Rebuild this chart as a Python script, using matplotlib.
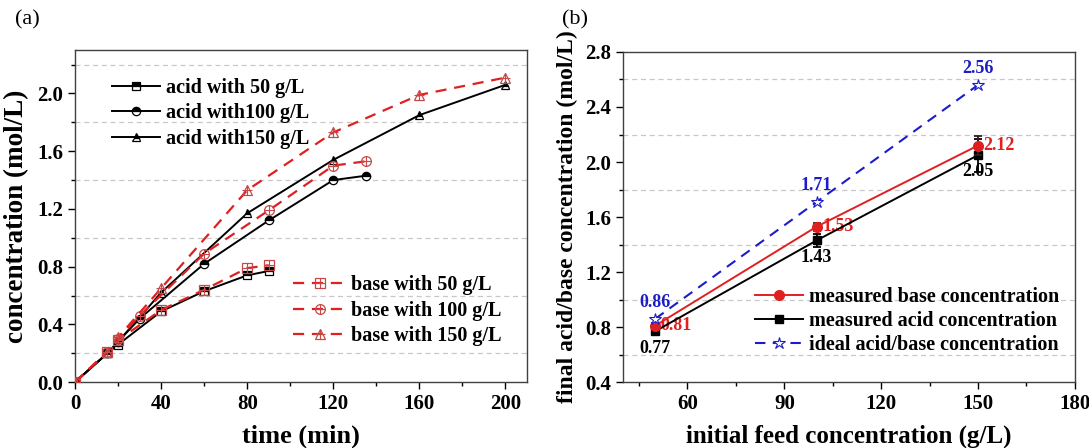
import matplotlib.pyplot as plt
from matplotlib.legend_handler import HandlerTuple
from matplotlib.lines import Line2D
from matplotlib.ticker import MultipleLocator

# (a) 時間 vs 濃度
t_50 = [0, 15, 20, 40, 60, 80, 90]
acid_50 = [0, 0.20, 0.26, 0.49, 0.63, 0.74, 0.77]
base_50 = [0, 0.21, 0.29, 0.50, 0.64, 0.79, 0.81]

t_100 = [0, 15, 20, 30, 60, 90, 120, 135]
acid_100 = [0, 0.20, 0.28, 0.44, 0.82, 1.12, 1.40, 1.43]
base_100 = [0, 0.21, 0.30, 0.46, 0.89, 1.19, 1.50, 1.53]

t_150 = [0, 15, 20, 40, 80, 120, 160, 200]
acid_150 = [0, 0.20, 0.28, 0.62, 1.17, 1.54, 1.85, 2.06]
base_150 = [0, 0.21, 0.31, 0.65, 1.33, 1.73, 1.99, 2.11]

acid_labels = ["acid with 50 g/L", "acid with100 g/L", "acid with150 g/L"]
base_labels = ["base with 50 g/L", "base with 100 g/L", "base with 150 g/L"]

# (b) 初始進料濃度 vs 最終濃度
feed = [50, 100, 150]
base_meas = [0.81, 1.53, 2.12]
base_err = [0.02, 0.03, 0.07]
acid_meas = [0.77, 1.43, 2.05]
acid_err = [0.02, 0.045, 0.12]
ideal = [0.86, 1.71, 2.56]

plt.rcParams['font.family'] = ['Liberation Serif', 'DejaVu Serif']
plt.rcParams['font.weight'] = 'bold'
plt.rcParams['axes.labelweight'] = 'bold'

RED = '#e02020'
MRED = '#c84848'
BLUE = '#1c1cc8'
SPINE = '#404040'

fig = plt.figure(figsize=(10.89, 4.48), dpi=100)
ax1 = fig.add_axes([0.0689, 0.147, 0.415, 0.741])
ax2 = fig.add_axes([0.572, 0.147, 0.415, 0.737])


def style_axes(ax):
    for s in ax.spines.values():
        s.set_color(SPINE)
        s.set_linewidth(1.0)
    ax.tick_params(which='both', direction='out', top=False, right=False,
                   labelsize=15, colors='black')
    ax.tick_params(which='major', length=5, width=1.0)
    ax.tick_params(which='minor', length=3, width=1.0)
    ax.grid(which='minor', axis='y', linestyle=(0, (4, 3)), color='#c8c8c8', linewidth=0.9)
    ax.grid(which='major', visible=False)
    for lab in ax.get_xticklabels() + ax.get_yticklabels():
        lab.set_fontweight('bold')


# ---- panel (a) ----
acid_markers = ['s', 'o', '^']
acid_handles = []
for t, y, m, lab in zip([t_50, t_100, t_150], [acid_50, acid_100, acid_150], acid_markers, acid_labels):
    h, = ax1.plot(t, y, color='black', lw=1.4, marker=m, ms=6, fillstyle='top',
                  markerfacecolor='black', markerfacecoloralt='white',
                  markeredgecolor='black', markeredgewidth=0.9, label=lab, zorder=3)
    acid_handles.append(h)

base_handles = []
for t, y, m in zip([t_50, t_100, t_150], [base_50, base_100, base_150], acid_markers):
    h, = ax1.plot(t, y, color=RED, lw=1.6, ls=(0, (5, 3.5)), marker=m, ms=7,
                  markerfacecolor='none', markeredgecolor=MRED, markeredgewidth=0.9, zorder=4)
    p, = ax1.plot(t, y, ls='none', marker='+', ms=7, markeredgecolor=MRED,
                  markeredgewidth=0.8, zorder=4)
    base_handles.append((h, p))

ax1.set_xlim(0, 210)
ax1.set_ylim(0, 2.3)
ax1.xaxis.set_major_locator(MultipleLocator(40))
ax1.xaxis.set_minor_locator(MultipleLocator(20))
ax1.yaxis.set_major_locator(MultipleLocator(0.4))
ax1.yaxis.set_minor_locator(MultipleLocator(0.2))
ax1.yaxis.set_major_formatter(plt.FormatStrFormatter('%.1f'))
ax1.set_xlabel("time (min)", fontsize=19, labelpad=8)
ax1.set_ylabel("concentration (mol/L)", fontsize=19.5, labelpad=6)
style_axes(ax1)

leg1 = ax1.legend(handles=acid_handles, loc='upper left', bbox_to_anchor=(0.05, 0.96),
                  frameon=False, fontsize=14.5, handlelength=2.4, labelspacing=0.28,
                  handletextpad=0.3, borderpad=0.2)
ax1.add_artist(leg1)
ax1.legend(handles=base_handles, labels=base_labels, loc='center left',
           bbox_to_anchor=(0.45, 0.215), frameon=False, fontsize=14.5,
           handlelength=2.7, labelspacing=0.28, handletextpad=0.2, borderpad=0.2,
           handler_map={tuple: HandlerTuple(ndivide=1)})

# ---- panel (b) ----
ax2.errorbar(feed, acid_meas, yerr=acid_err, color='black', lw=1.4, marker='s', ms=6,
             capsize=3, elinewidth=1.3, capthick=1.3, zorder=3)
ax2.errorbar(feed, base_meas, yerr=base_err, color=RED, lw=1.4, marker='o', ms=7,
             capsize=3, elinewidth=1.3, capthick=1.3, ecolor='#302020', zorder=4)
ax2.plot(feed, ideal, color=BLUE, lw=1.5, ls=(0, (5, 3.5)), marker='*', ms=9,
         markerfacecolor='white', markeredgecolor=BLUE, markeredgewidth=0.8, zorder=5)

for x, v in zip(feed, ideal):
    ax2.annotate(f"{v:.2f}", (x, v), xytext=(0, 6), textcoords='offset points',
                 ha='center', va='bottom', color=BLUE, fontsize=13, fontweight='bold')
for x, v in zip(feed, base_meas):
    ax2.annotate(f"{v:.2f}", (x, v), xytext=(4, 0), textcoords='offset points',
                 ha='left', va='center', color=RED, fontsize=13, fontweight='bold')
for x, v in zip(feed, acid_meas):
    ax2.annotate(f"{v:.2f}", (x, v), xytext=(0, -6), textcoords='offset points',
                 ha='center', va='top', color='black', fontsize=13, fontweight='bold')

ax2.set_xlim(40, 180)
ax2.set_ylim(0.4, 2.8)
ax2.xaxis.set_major_locator(MultipleLocator(30))
ax2.xaxis.set_minor_locator(MultipleLocator(15))
ax2.yaxis.set_major_locator(MultipleLocator(0.4))
ax2.yaxis.set_minor_locator(MultipleLocator(0.2))
ax2.yaxis.set_major_formatter(plt.FormatStrFormatter('%.1f'))
ax2.set_xlabel("initial feed concentration (g/L)", fontsize=18, labelpad=8)
ax2.set_ylabel("final acid/base concentration (mol/L)", fontsize=17, labelpad=5)
style_axes(ax2)

leg_handles = [
    Line2D([], [], color=RED, lw=1.4, marker='o', ms=7),
    Line2D([], [], color='black', lw=1.4, marker='s', ms=6),
    Line2D([], [], color=BLUE, lw=1.5, ls=(0, (5, 3.5)), marker='*', ms=9,
           markerfacecolor='white', markeredgecolor=BLUE, markeredgewidth=0.8),
]
leg_labels = ["measured base concentration", "measured acid concentration",
              "ideal acid/base concentration"]
ax2.legend(leg_handles, leg_labels, loc='center left',
           bbox_to_anchor=(0.26, 0.185), frameon=False, fontsize=14.5, handlelength=2.4,
           labelspacing=0.2, handletextpad=0.3, borderpad=0.2)

fig.text(0.014, 0.945, "(a)", fontsize=16, fontweight='normal')
fig.text(0.516, 0.945, "(b)", fontsize=16, fontweight='normal')

fig.savefig("out.png", dpi=100)
